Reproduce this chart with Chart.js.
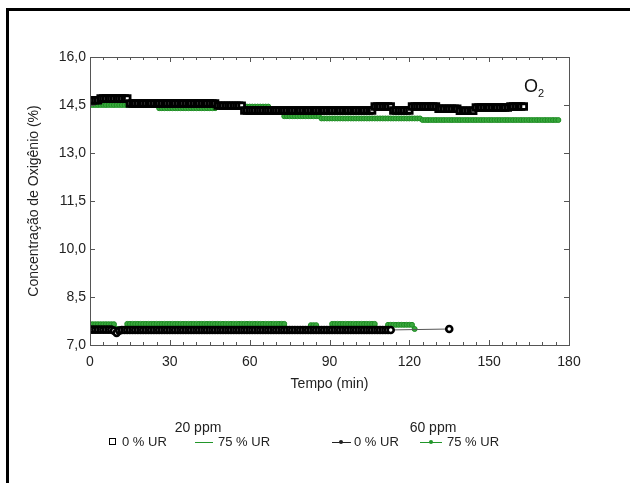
<!DOCTYPE html>
<html>
<head>
<meta charset="utf-8">
<script src="https://cdn.jsdelivr.net/npm/chart.js@4"></script>
<style>
  body { margin: 0; background: #fff; }
  #wrap { position: relative; width: 630px; height: 483px; font-family: 'Liberation Sans', Arial, sans-serif; color: #222; }
  #wrap canvas { position: absolute; left: 0; top: 0; }
  .frameL { position: absolute; left: 6px; top: 8px; width: 3px; height: 475px; background: #000; }
  .frameT { position: absolute; left: 6px; top: 8px; width: 624px; height: 3px; background: #000; }
  .txt { position: absolute; white-space: nowrap; line-height: 16px; }
  .grp { font-size: 14px; transform: translateX(-50%); }
  .lg { font-size: 13px; }
  .sq { position: absolute; width: 5px; height: 5px; border: 1px solid #000; background: #fff; }
  .ln { position: absolute; height: 1px; }
  .mk { position: absolute; width: 4px; height: 4px; border-radius: 50%; }
  .o2 { position: absolute; left: 524px; top: 76px; font-size: 18px; color: #111; }
  .o2 sub { font-size: 11px; }
</style>
</head>
<body>
<div id="wrap">
  <canvas id="chart" width="630" height="483"></canvas>
  <div class="frameL"></div>
  <div class="frameT"></div>
  <div class="o2">O<sub>2</sub></div>

  <div class="txt grp" style="left:198px; top:419px;">20 ppm</div>
  <div class="sq" style="left:109px; top:438px;"></div>
  <div class="txt lg" style="left:122px; top:434px;">0 % UR</div>
  <div class="ln" style="left:195px; top:442px; width:18px; background:#22962a;"></div>
  <div class="txt lg" style="left:218px; top:434px;">75 % UR</div>

  <div class="txt grp" style="left:433px; top:419px;">60 ppm</div>
  <div class="ln" style="left:332px; top:442px; width:19px; background:#222;"></div>
  <div class="mk" style="left:339px; top:440px; background:#222;"></div>
  <div class="txt lg" style="left:354px; top:434px;">0 % UR</div>
  <div class="ln" style="left:420px; top:442px; width:22px; background:#22962a;"></div>
  <div class="mk" style="left:429px; top:440px; background:#22962a;"></div>
  <div class="txt lg" style="left:447px; top:434px;">75 % UR</div>
</div>
<script>
// O2 concentration (%) read once per minute, index = minutes from start
const o2_20ppm_0UR = [
  14.65, 14.65, 14.65, 14.65,
  14.7, 14.7, 14.7, 14.7, 14.7, 14.7, 14.7, 14.7, 14.7, 14.7, 14.7,
  14.55, 14.55, 14.55, 14.55, 14.55, 14.55, 14.55, 14.55, 14.55, 14.55, 14.55,
  14.55, 14.55, 14.55, 14.55, 14.55, 14.55, 14.55, 14.55, 14.55, 14.55, 14.55,
  14.55, 14.55, 14.55, 14.55, 14.55, 14.55, 14.55, 14.55, 14.55, 14.55, 14.55,
  14.48, 14.48, 14.48, 14.48, 14.48, 14.48, 14.48, 14.48, 14.48, 14.48,
  14.33, 14.33, 14.33, 14.33, 14.33, 14.33, 14.33, 14.33, 14.33, 14.33,
  14.33, 14.33, 14.33, 14.33, 14.33, 14.33, 14.33, 14.33, 14.33, 14.33,
  14.33, 14.33, 14.33, 14.33, 14.33, 14.33, 14.33, 14.33, 14.33, 14.33,
  14.33, 14.33, 14.33, 14.33, 14.33, 14.33, 14.33, 14.33, 14.33, 14.33,
  14.33, 14.33, 14.33, 14.33, 14.33, 14.33, 14.33, 14.33, 14.33,
  14.45, 14.45, 14.45, 14.45, 14.45, 14.45, 14.45,
  14.33, 14.33, 14.33, 14.33, 14.33, 14.33, 14.33,
  14.45, 14.45, 14.45, 14.45, 14.45, 14.45, 14.45, 14.45, 14.45, 14.45,
  14.38, 14.38, 14.38, 14.38, 14.38, 14.38, 14.38, 14.38,
  14.32, 14.32, 14.32, 14.32, 14.32, 14.32,
  14.42, 14.42, 14.42, 14.42, 14.42, 14.42, 14.42, 14.42, 14.42, 14.42, 14.42, 14.42, 14.42,
  14.45, 14.45, 14.45, 14.45, 14.45, 14.45
];
const o2_20ppm_75UR = [
  14.5, 14.5, 14.5, 14.5, 14.5, 14.5, 14.5, 14.5, 14.5, 14.5, 14.5, 14.5, 14.5,
  14.5, 14.5, 14.5, 14.5, 14.5, 14.5, 14.5, 14.5, 14.5, 14.5, 14.5, 14.5, 14.5,
  14.4, 14.4, 14.4, 14.4, 14.4, 14.4, 14.4, 14.4, 14.4, 14.4, 14.4,
  14.4, 14.4, 14.4, 14.4, 14.4, 14.4, 14.4, 14.4, 14.4, 14.4, 14.4,
  14.45, 14.45, 14.45, 14.45, 14.45, 14.45, 14.45, 14.45, 14.45, 14.45,
  14.45, 14.45, 14.45, 14.45, 14.45, 14.45, 14.45, 14.45, 14.45, 14.45,
  14.3, 14.3, 14.3, 14.3, 14.3,
  14.15, 14.15, 14.15, 14.15, 14.15, 14.15, 14.15, 14.15, 14.15, 14.15, 14.15, 14.15, 14.15, 14.15,
  14.08, 14.08, 14.08, 14.08, 14.08, 14.08, 14.08, 14.08, 14.08, 14.08,
  14.08, 14.08, 14.08, 14.08, 14.08, 14.08, 14.08, 14.08, 14.08, 14.08,
  14.08, 14.08, 14.08, 14.08, 14.08, 14.08, 14.08, 14.08, 14.08, 14.08,
  14.08, 14.08, 14.08, 14.08, 14.08, 14.08, 14.08, 14.08,
  14.03, 14.03, 14.03, 14.03, 14.03, 14.03, 14.03, 14.03, 14.03, 14.03,
  14.03, 14.03, 14.03, 14.03, 14.03, 14.03, 14.03, 14.03, 14.03, 14.03,
  14.03, 14.03, 14.03, 14.03, 14.03, 14.03, 14.03, 14.03, 14.03, 14.03,
  14.03, 14.03, 14.03, 14.03, 14.03, 14.03, 14.03, 14.03, 14.03, 14.03,
  14.03, 14.03, 14.03, 14.03, 14.03, 14.03, 14.03, 14.03, 14.03, 14.03,
  14.03, 14.03
];
// null = no reading; the line is continued across
const o2_60ppm_0UR = [
  7.48, 7.48, 7.48, 7.48, 7.48, 7.48, 7.48, 7.48, 7.48, 7.45, 7.38, 7.45,
  7.47, 7.47, 7.47, 7.47, 7.47, 7.47, 7.47, 7.47, 7.47, 7.47, 7.47, 7.47, 7.47, 7.47,
  7.47, 7.47, 7.47, 7.47, 7.47, 7.47, 7.47, 7.47, 7.47, 7.47, 7.47, 7.47, 7.47, 7.47,
  7.47, 7.47, 7.47, 7.47, 7.47, 7.47, 7.47, 7.47, 7.47, 7.47, 7.47, 7.47, 7.47, 7.47,
  7.47, 7.47, 7.47, 7.47, 7.47, 7.47, 7.47, 7.47, 7.47, 7.47, 7.47, 7.47, 7.47, 7.47,
  7.47, 7.47, 7.47, 7.47, 7.47, 7.47, 7.47, 7.47, 7.47, 7.47, 7.47, 7.47, 7.47, 7.47,
  7.47, 7.47, 7.47, 7.47, 7.47, 7.47, 7.47, 7.47, 7.47, 7.47, 7.47, 7.47, 7.47, 7.47,
  7.47, 7.47, 7.47, 7.47, 7.47, 7.47, 7.47, 7.47, 7.47, 7.47, 7.47, 7.47, 7.47, 7.47,
  7.47, 7.47, 7.47, 7.47,
  null, null, null, null, null, null, null, null, null, null, null,
  null, null, null, null, null, null, null, null, null, null,
  7.5
];
const o2_60ppm_75UR = [
  7.65, 7.65, 7.65, 7.65, 7.65, 7.65, 7.65, 7.65, 7.65, 7.65,
  7.5, 7.5, 7.5, 7.5,
  7.66, 7.66, 7.66, 7.66, 7.66, 7.66, 7.66, 7.66, 7.66, 7.66,
  7.66, 7.66, 7.66, 7.66, 7.66, 7.66, 7.66, 7.66, 7.66, 7.66,
  7.66, 7.66, 7.66, 7.66, 7.66, 7.66, 7.66, 7.66, 7.66, 7.66,
  7.66, 7.66, 7.66, 7.66, 7.66, 7.66, 7.66, 7.66, 7.66, 7.66,
  7.66, 7.66, 7.66, 7.66, 7.66, 7.66, 7.66, 7.66, 7.66, 7.66,
  7.66, 7.66, 7.66, 7.66, 7.66, 7.66, 7.66, 7.66, 7.66, 7.66,
  7.5, 7.5, 7.5, 7.5, 7.5, 7.5, 7.5, 7.5, 7.5,
  7.62, 7.62, 7.62,
  7.5, 7.5, 7.5, 7.5, 7.5,
  7.66, 7.66, 7.66, 7.66, 7.66, 7.66, 7.66, 7.66, 7.66, 7.66,
  7.66, 7.66, 7.66, 7.66, 7.66, 7.66, 7.66,
  7.5, 7.5, 7.5, 7.5,
  7.63, 7.63, 7.63, 7.63, 7.63, 7.63, 7.63, 7.63, 7.63, 7.63,
  7.5
];
const yTicks = [7.0, 8.5, 10.0, 11.5, 13.0, 14.5, 16.0];
const xTicks = [0, 30, 60, 90, 120, 150, 180];

const GREEN = '#1d8c22';
const GREEN_FILL = '#3aa83e';

function asPoints(values) {
  return values.map((v, i) => ({ x: i, y: v }));
}

// box around plot area with inward tick marks on all sides
const frameTicks = {
  id: 'frameTicks',
  afterDatasetsDraw(chart) {
    const { ctx, chartArea: a, scales: { x, y } } = chart;
    ctx.save();
    ctx.strokeStyle = '#555';
    ctx.lineWidth = 1;
    ctx.strokeRect(Math.round(a.left) + 0.5, Math.round(a.top) + 0.5, Math.round(a.width), Math.round(a.height));
    ctx.beginPath();
    for (let t = xTicks[0]; t <= xTicks[xTicks.length - 1]; t += 5) {
      const px = Math.round(x.getPixelForValue(t)) + 0.5;
      const len = xTicks.includes(t) ? 5 : 3;
      ctx.moveTo(px, a.bottom); ctx.lineTo(px, a.bottom - len);
      ctx.moveTo(px, a.top); ctx.lineTo(px, a.top + len);
    }
    yTicks.forEach(v => {
      const py = Math.round(y.getPixelForValue(v)) + 0.5;
      ctx.moveTo(a.left, py); ctx.lineTo(a.left + 5, py);
      ctx.moveTo(a.right, py); ctx.lineTo(a.right - 5, py);
    });
    ctx.stroke();
    ctx.restore();
  }
};

new Chart(document.getElementById('chart'), {
  type: 'line',
  data: {
    datasets: [
      {
        label: '20 ppm 0 % UR',
        data: asPoints(o2_20ppm_0UR),
        showLine: false,
        pointStyle: 'rect',
        pointRadius: 4,
        pointBorderWidth: 2.8,
        pointBorderColor: '#000',
        pointBackgroundColor: '#fff'
      },
      {
        label: '60 ppm 0 % UR',
        data: asPoints(o2_60ppm_0UR),
        spanGaps: true,
        borderColor: '#555',
        borderWidth: 1,
        pointRadius: 3,
        pointBorderWidth: 2.6,
        pointBorderColor: '#000',
        pointBackgroundColor: '#fff'
      },
      {
        label: '20 ppm 75 % UR',
        data: asPoints(o2_20ppm_75UR),
        borderColor: GREEN,
        borderWidth: 3,
        pointRadius: 2.5,
        pointBorderWidth: 1,
        pointBorderColor: GREEN,
        pointBackgroundColor: GREEN_FILL
      },
      {
        label: '60 ppm 75 % UR',
        data: asPoints(o2_60ppm_75UR),
        borderColor: GREEN,
        borderWidth: 3,
        pointRadius: 2.5,
        pointBorderWidth: 1,
        pointBorderColor: GREEN,
        pointBackgroundColor: GREEN_FILL
      }
    ]
  },
  options: {
    responsive: false,
    animation: false,
    layout: { padding: { left: 22, right: 61, top: 57, bottom: 86 } },
    plugins: { legend: { display: false }, tooltip: { enabled: false } },
    scales: {
      x: {
        type: 'linear',
        min: 0,
        max: 180,
        afterFit: s => { s.height = 52; },
        afterBuildTicks: s => { s.ticks = xTicks.map(v => ({ value: v })); },
        grid: { display: false, drawTicks: false },
        border: { display: false },
        ticks: { padding: 9, color: '#222', font: { family: 'Liberation Sans', size: 14 } },
        title: { display: true, text: 'Tempo (min)', color: '#222', padding: { top: 4, bottom: 4 }, font: { family: 'Liberation Sans', size: 14 } }
      },
      y: {
        min: 7,
        max: 16,
        afterFit: s => { s.width = 68; },
        afterBuildTicks: s => { s.ticks = yTicks.map(v => ({ value: v })); },
        grid: { display: false, drawTicks: false },
        border: { display: false },
        ticks: {
          padding: 4,
          color: '#222',
          font: { family: 'Liberation Sans', size: 14 },
          callback: v => v.toFixed(1).replace('.', ',')
        },
        title: { display: true, text: 'Concentração de Oxigênio (%)', color: '#222', padding: { top: 4, bottom: 4 }, font: { family: 'Liberation Sans', size: 14 } }
      }
    }
  },
  plugins: [frameTicks]
});
</script>
</body>
</html>
